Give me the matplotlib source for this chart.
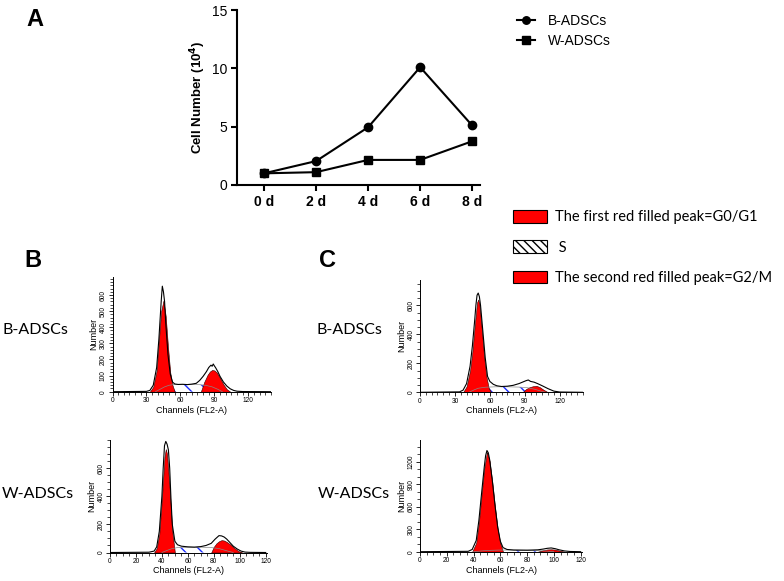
import matplotlib
matplotlib.use("Agg")
import matplotlib.pyplot as plt
from matplotlib.patches import Patch
from matplotlib.ticker import MultipleLocator, FixedLocator

plt.rcParams["font.family"] = ["Liberation Sans", "DejaVu Sans"]
plt.rcParams["hatch.linewidth"] = 1.0

# ---- panel A: growth curve ----
days = ["0 d", "2 d", "4 d", "6 d", "8 d"]
b_adscs = [1.0, 2.05, 4.95, 10.1, 5.1]
w_adscs = [1.0, 1.1, 2.15, 2.15, 3.75]

# ---- panel B, B-ADSCs ----
bt_ch = [0, 30, 33, 36, 39, 41, 43, 44, 45, 46, 47, 49, 51, 53, 55, 58, 62, 66, 70, 74,
         77, 80, 83, 85, 87, 88, 89, 90, 91, 93, 95, 98, 101, 104, 107, 110, 115, 140]
bt_total = [0, 2, 8, 40, 150, 330, 560, 655, 620, 560, 430, 230, 110, 60, 48, 45, 46, 44, 47, 52,
            70, 95, 125, 150, 165, 158, 172, 160, 150, 125, 95, 60, 35, 18, 8, 3, 1, 0]
bt_g1_ch = [33, 36, 39, 41, 43, 45, 47, 49, 51, 53, 55]
bt_g1 = [0, 30, 130, 320, 500, 565, 470, 280, 120, 40, 0]
bt_s_ch = [38, 42, 46, 50, 55, 65, 75, 82, 88, 93, 97]
bt_s = [0, 15, 30, 40, 45, 45, 45, 40, 30, 15, 0]
bt_g2_ch = [78, 81, 84, 86, 88, 90, 92, 95, 98, 101, 104]
bt_g2 = [0, 60, 105, 125, 135, 132, 120, 85, 45, 15, 0]

# ---- panel B, W-ADSCs ----
bb_ch = [0, 30, 34, 36, 38, 40, 41, 42, 43, 44, 45, 46, 47, 48, 50, 52, 55, 60, 65, 70, 74,
         78, 81, 84, 86, 88, 90, 92, 95, 98, 101, 104, 108, 120]
bb_total = [0, 2, 10, 40, 150, 400, 600, 760, 790, 770, 730, 600, 380, 200, 80, 55, 45, 40, 38, 42, 50,
            65, 95, 120, 118, 110, 95, 75, 45, 25, 10, 3, 1, 0]
bb_g1_ch = [34, 36, 38, 40, 42, 43, 44, 46, 48, 50]
bb_g1 = [0, 30, 130, 380, 680, 735, 700, 450, 150, 0]
bb_s_ch = [40, 44, 48, 52, 60, 70, 78, 84, 90, 95]
bb_s = [0, 15, 28, 35, 38, 38, 35, 28, 12, 0]
bb_g2_ch = [78, 80, 82, 84, 86, 88, 90, 93, 96, 99, 102]
bb_g2 = [0, 40, 65, 80, 88, 85, 75, 55, 30, 10, 0]

# ---- panel C, B-ADSCs ----
ct_ch = [0, 34, 37, 40, 43, 45, 47, 48, 49, 50, 51, 52, 54, 56, 58, 60, 63, 66, 70, 75,
         80, 85, 88, 91, 93, 95, 98, 101, 105, 110, 115, 120, 140]
ct_total = [0, 3, 15, 60, 180, 320, 500, 600, 670, 685, 660, 600, 420, 240, 110, 75, 55, 45, 40, 42,
            48, 60, 70, 80, 85, 75, 70, 60, 45, 25, 8, 2, 0]
ct_g1_ch = [37, 40, 43, 45, 47, 49, 50, 51, 53, 55, 57, 59, 61]
ct_g1 = [0, 40, 150, 280, 460, 620, 640, 610, 440, 250, 110, 30, 0]
ct_s_ch = [42, 46, 50, 56, 65, 75, 85, 92, 98, 104, 108]
ct_s = [0, 15, 28, 35, 38, 38, 36, 32, 22, 8, 0]
ct_g2_ch = [88, 91, 94, 97, 100, 103, 106, 110]
ct_g2 = [0, 22, 35, 42, 45, 35, 18, 0]

# ---- panel C, W-ADSCs ----
cb_ch = [0, 36, 39, 42, 44, 46, 48, 49, 50, 51, 52, 54, 56, 58, 60, 62, 65, 70, 80, 88,
         92, 95, 98, 101, 104, 108, 112, 120]
cb_total = [0, 5, 30, 150, 420, 780, 1130, 1280, 1350, 1320, 1230, 950, 620, 330, 140, 55, 30, 22, 20, 25,
            35, 45, 50, 40, 25, 10, 3, 0]
cb_g1_ch = [39, 42, 44, 46, 48, 50, 52, 54, 56, 58, 60, 62]
cb_g1 = [0, 120, 390, 760, 1110, 1330, 1210, 930, 600, 310, 110, 0]
cb_s_ch = [40, 46, 52, 60, 70, 80, 88, 95, 100]
cb_s = [0, 10, 18, 22, 22, 20, 16, 8, 0]
cb_g2_ch = [88, 92, 95, 98, 101, 104, 108]
cb_g2 = [0, 20, 30, 32, 28, 15, 0]

W, H = 784, 581
fig = plt.figure(figsize=(W / 100, H / 100), dpi=100)


def px_axes(x0, y0, x1, y1):
    return fig.add_axes([x0 / W, 1 - y1 / H, (x1 - x0) / W, (y1 - y0) / H])


# Panel A
ax = px_axes(237, 10, 480, 185)
xs = list(range(len(days)))
ax.plot(xs, b_adscs, "-o", color="black", lw=1.5, ms=6, label="B-ADSCs", clip_on=False)
ax.plot(xs, w_adscs, "-s", color="black", lw=1.5, ms=6, label="W-ADSCs", clip_on=False)
ax.set_xlim(-0.52, 4.15)
ax.set_ylim(0, 15)
ax.set_yticks([0, 5, 10, 15])
ax.set_xticks(xs)
ax.set_xticklabels(days, fontweight="bold")
for s in ["top", "right"]:
    ax.spines[s].set_visible(False)
for s in ["left", "bottom"]:
    ax.spines[s].set_linewidth(1.5)
ax.tick_params(direction="out", length=4, width=1.5, labelsize=10, pad=3)
fig.text(198 / W, 1 - 97 / H, r"Cell Number (10$^{\mathbf{4}}$)", rotation=90,
         ha="center", va="center", fontsize=9.5, fontweight="bold")
fig.legend(*ax.get_legend_handles_labels(), loc="upper left",
           bbox_to_anchor=(517 / W, 1 - 14 / H), frameon=False, fontsize=10,
           handlelength=1.3, handletextpad=0.9, labelspacing=0.45,
           borderpad=0, borderaxespad=0, markerscale=0.9)

# cell cycle legend
cc_handles = [Patch(facecolor="red", edgecolor="black", lw=0.8),
              Patch(facecolor="white", edgecolor="black", hatch="\\\\\\\\", lw=0.8),
              Patch(facecolor="red", edgecolor="black", lw=0.8)]
cc_labels = ["The first red filled peak=G0/G1", " S", "The second red filled peak=G2/M"]
fig.legend(cc_handles, cc_labels, loc="upper left", bbox_to_anchor=(513 / W, 1 - 210 / H),
           frameon=False, prop={"family": ["Lato", "DejaVu Sans"], "size": 10.5},
           handlelength=2.3, handleheight=0.95, handletextpad=0.55, labelspacing=1.1,
           borderpad=0, borderaxespad=0)


def flow_panel(rect, ch, total, g1_ch, g1, s_ch, s, g2_ch, g2,
               xmax, xmajor, ymax, ymajor, yminor):
    a = px_axes(*rect)
    a.fill_between(s_ch, s, facecolor="white", edgecolor="#1a2cff", hatch="\\\\", lw=0)
    a.plot(s_ch, s, color="#888888", lw=0.5)
    a.fill_between(g1_ch, g1, facecolor="red", edgecolor="#300000", lw=0.4)
    a.fill_between(g2_ch, g2, facecolor="red", edgecolor="#300000", lw=0.4)
    a.plot(ch, total, color="black", lw=0.8)
    a.xaxis.set_major_locator(FixedLocator(list(range(0, xmax, xmajor))))
    a.xaxis.set_minor_locator(MultipleLocator(5))
    a.yaxis.set_major_locator(FixedLocator([v for v in range(0, ymax, ymajor)
                                            if v < ymax - ymajor * 0.5]))
    a.yaxis.set_minor_locator(MultipleLocator(yminor))
    a.set_xlim(0, xmax)
    a.set_ylim(0, ymax)
    for sp in ["top", "right"]:
        a.spines[sp].set_visible(False)
    for sp in ["left", "bottom"]:
        a.spines[sp].set_linewidth(0.7)
    a.tick_params(which="major", direction="out", length=3, width=0.6, labelsize=4.8, pad=1)
    a.tick_params(which="minor", direction="out", length=2, width=0.5)
    a.tick_params(axis="y", labelrotation=90)
    for lab in a.get_yticklabels():
        lab.set_va("center")
    a.set_xlabel("Channels (FL2-A)", fontsize=6.5, labelpad=1)
    a.set_ylabel("Number", fontsize=6.5, labelpad=1)
    return a


flow_panel((112.5, 277, 271, 391.7), bt_ch, bt_total, bt_g1_ch, bt_g1, bt_s_ch, bt_s,
           bt_g2_ch, bt_g2, 140, 30, 712, 100, 20)
flow_panel((110, 440, 267, 552.5), bb_ch, bb_total, bb_g1_ch, bb_g1, bb_s_ch, bb_s,
           bb_g2_ch, bb_g2, 121, 20, 800, 200, 50)
flow_panel((420, 280, 583, 392.3), ct_ch, ct_total, ct_g1_ch, ct_g1, ct_s_ch, ct_s,
           ct_g2_ch, ct_g2, 140, 30, 775, 200, 50)
flow_panel((420, 440, 582, 551.7), cb_ch, cb_total, cb_g1_ch, cb_g1, cb_s_ch, cb_s,
           cb_g2_ch, cb_g2, 121, 20, 1490, 300, 100)

# panel letters and row labels
for txt, x, y in [("A", 35, 20), ("B", 33, 260), ("C", 328, 260)]:
    fig.text(x / W, 1 - y / H, txt, fontsize=17, fontweight="bold", ha="center", va="center")
row_font = {"family": ["Lato", "DejaVu Sans"], "size": 11.5}
for txt, x, y in [("B-ADSCs", 2, 330), ("W-ADSCs", 2, 494),
                  ("B-ADSCs", 316, 330), ("W-ADSCs", 318, 494)]:
    fig.text(x / W, 1 - y / H, txt, ha="left", va="center", fontdict=row_font)

fig.savefig("out.png", dpi=100)
